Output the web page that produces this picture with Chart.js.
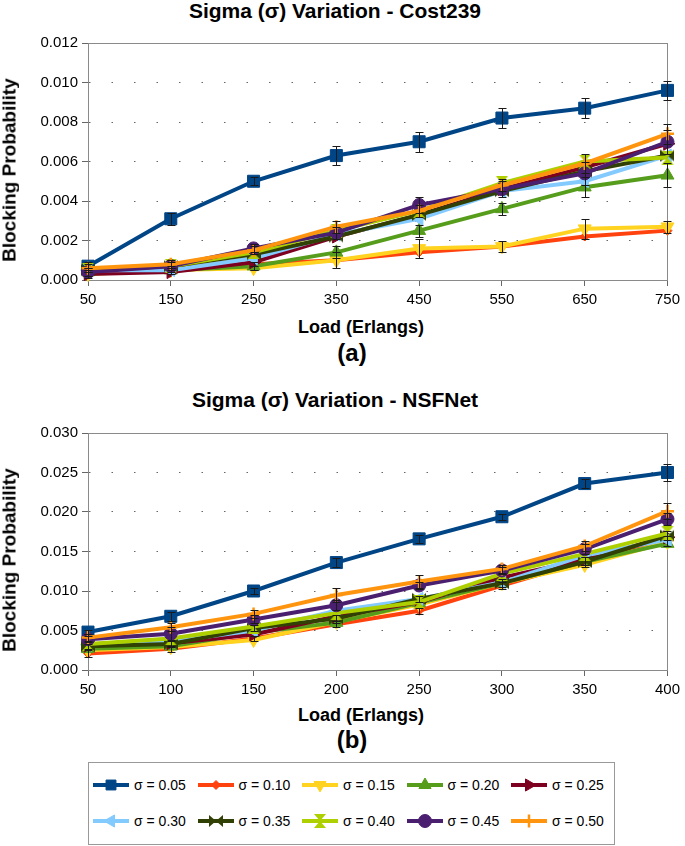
<!DOCTYPE html>
<html>
<head>
<meta charset="utf-8">
<script src="https://cdn.jsdelivr.net/npm/chart.js@4.4.0/dist/chart.umd.min.js"></script>
<style>
  body { margin: 0; background: #fff; width: 685px; height: 846px; position: relative; overflow: hidden; font-family: 'Liberation Sans', Arial, sans-serif; }
  canvas.plot { position: absolute; left: 0; }
  .txt { position: absolute; transform: translateX(-50%); white-space: nowrap; font-weight: bold; color: #000; line-height: 1; }
  .ytitle { position: absolute; white-space: nowrap; font-weight: bold; color: #000; line-height: 1; font-size: 19px; transform: translate(-50%, -50%) rotate(-90deg); }
  #legend { position: absolute; left: 88px; top: 762px; width: 525px; height: 81px; border: 1px solid #999; }
  .item { position: absolute; display: flex; align-items: center; font-size: 14px; color: #000; height: 16px; }
  .item span { margin-left: 5px; }
</style>
</head>
<body>
<div class="txt" style="left:335px;top:0px;font-size:21px;">Sigma (σ) Variation - Cost239</div>
<canvas id="chartA" class="plot" width="685" height="312" style="top:0px"></canvas>
<div class="ytitle" style="left:9px;top:170px;">Blocking Probability</div>
<div class="txt" style="left:361px;top:318px;font-size:18px;">Load (Erlangs)</div>
<div class="txt" style="left:352px;top:341px;font-size:24px;">(a)</div>

<div class="txt" style="left:335px;top:389px;font-size:21px;">Sigma (σ) Variation - NSFNet</div>
<canvas id="chartB" class="plot" width="685" height="312" style="top:390px"></canvas>
<div class="ytitle" style="left:9px;top:560px;">Blocking Probability</div>
<div class="txt" style="left:361px;top:706px;font-size:18px;">Load (Erlangs)</div>
<div class="txt" style="left:352px;top:728px;font-size:24px;">(b)</div>

<div id="legend"></div>

<script>
const loadsCost239 = ['50', '150', '250', '350', '450', '550', '650', '750'];
const loadsNSFNet = ['50', '100', '150', '200', '250', '300', '350', '400'];
const sigmaLabels = ['σ = 0.05', 'σ = 0.10', 'σ = 0.15', 'σ = 0.20', 'σ = 0.25',
                     'σ = 0.30', 'σ = 0.35', 'σ = 0.40', 'σ = 0.45', 'σ = 0.50'];
const seriesColors = ['#004586', '#ff420e', '#ffd320', '#579d1c', '#7e0021',
                      '#83caff', '#314004', '#aecf00', '#4b1f6f', '#ff950e'];

// Cost239 blocking probability
const cost239_s05 = [0.0007, 0.0031, 0.0050, 0.0063, 0.0070, 0.0082, 0.0087, 0.0096];
const cost239_s10 = [0.0005, 0.0006, 0.0008, 0.0010, 0.0014, 0.0017, 0.0022, 0.0025];
const cost239_s15 = [0.0003, 0.0005, 0.0006, 0.0010, 0.0016, 0.0017, 0.0026, 0.0027];
const cost239_s20 = [0.0005, 0.0005, 0.0007, 0.0014, 0.0025, 0.0036, 0.0047, 0.0053];
const cost239_s25 = [0.0003, 0.0004, 0.0009, 0.0022, 0.0033, 0.0046, 0.0057, 0.0069];
const cost239_s30 = [0.0005, 0.0005, 0.0011, 0.0023, 0.0031, 0.0045, 0.0050, 0.0063];
const cost239_s35 = [0.0005, 0.0007, 0.0013, 0.0022, 0.0033, 0.0045, 0.0055, 0.0063];
const cost239_s40 = [0.0005, 0.0007, 0.0014, 0.0025, 0.0035, 0.0049, 0.0060, 0.0062];
const cost239_s45 = [0.0004, 0.0007, 0.0016, 0.0024, 0.0038, 0.0046, 0.0054, 0.0070];
const cost239_s50 = [0.0006, 0.0008, 0.0015, 0.0027, 0.0035, 0.0048, 0.0059, 0.0074];

// Cost239 error bar half-widths (only the series that show them clearly)
const cost239_err05 = [0.0002, 0.0003, 0.0002, 0.0005, 0.0005, 0.0005, 0.0005, 0.0005];
const cost239_err15 = [0.0002, 0.0002, 0.0001, 0.0004, 0.0005, 0.0003, 0.0005, 0.0003];
const cost239_err20 = [0.0001, 0.0001, 0.0002, 0.0003, 0.0003, 0.0003, 0.0005, 0.0006];
const cost239_err45 = [0.0002, 0.0002, 0.0002, 0.0003, 0.0004, 0.0004, 0.0006, 0.0006];
const cost239_err50 = [0.0002, 0.0002, 0.0002, 0.0003, 0.0003, 0.0003, 0.0005, 0.0005];

// NSFNet blocking probability
const nsfnet_s05 = [0.0048, 0.0068, 0.0100, 0.0136, 0.0166, 0.0194, 0.0236, 0.0250];
const nsfnet_s10 = [0.0021, 0.0027, 0.0040, 0.0058, 0.0075, 0.0107, 0.0138, 0.0163];
const nsfnet_s15 = [0.0025, 0.0029, 0.0038, 0.0061, 0.0083, 0.0110, 0.0133, 0.0162];
const nsfnet_s20 = [0.0027, 0.0030, 0.0047, 0.0060, 0.0085, 0.0110, 0.0137, 0.0160];
const nsfnet_s25 = [0.0031, 0.0034, 0.0045, 0.0068, 0.0086, 0.0117, 0.0140, 0.0168];
const nsfnet_s30 = [0.0032, 0.0036, 0.0050, 0.0075, 0.0090, 0.0111, 0.0145, 0.0165];
const nsfnet_s35 = [0.0030, 0.0033, 0.0053, 0.0065, 0.0090, 0.0110, 0.0137, 0.0170];
const nsfnet_s40 = [0.0033, 0.0040, 0.0055, 0.0072, 0.0086, 0.0122, 0.0147, 0.0173];
const nsfnet_s45 = [0.0039, 0.0046, 0.0064, 0.0082, 0.0107, 0.0126, 0.0153, 0.0191];
const nsfnet_s50 = [0.0041, 0.0054, 0.0071, 0.0095, 0.0112, 0.0128, 0.0157, 0.0201];

const nsfnet_err05 = [0.0003, 0.0006, 0.0004, 0.0006, 0.0005, 0.0004, 0.0006, 0.0011];
const nsfnet_err10 = [0.0004, 0.0004, 0.0003, 0.0004, 0.0004, 0.0004, 0.0005, 0.0006];
const nsfnet_err35 = [0.0003, 0.0004, 0.0004, 0.0005, 0.0004, 0.0005, 0.0006, 0.0006];
const nsfnet_err45 = [0.0004, 0.0008, 0.0005, 0.0006, 0.0005, 0.0005, 0.0006, 0.0008];
const nsfnet_err50 = [0.0004, 0.0005, 0.0005, 0.0009, 0.0008, 0.0005, 0.0006, 0.0010];

const cost239Ticks = [0, 0.012, 0.002];
const nsfnetTicks = [0, 0.030, 0.005];

// little canvases for the two marker shapes Chart.js doesn't have
function shapeCanvas(color, kind) {
  const c = document.createElement('canvas');
  c.width = 14; c.height = 14;
  const g = c.getContext('2d');
  g.fillStyle = color;
  g.beginPath();
  if (kind === 'bowtie') {
    g.moveTo(0, 1); g.lineTo(7, 7); g.lineTo(0, 13); g.closePath();
    g.moveTo(14, 1); g.lineTo(7, 7); g.lineTo(14, 13); g.closePath();
  } else {
    g.moveTo(1, 0); g.lineTo(13, 0); g.lineTo(7, 7); g.closePath();
    g.moveTo(1, 14); g.lineTo(13, 14); g.lineTo(7, 7); g.closePath();
  }
  g.fill();
  return c;
}

const markerStyles = ['rect', 'rectRot', 'triangle', 'triangle', 'triangle',
                      'triangle', shapeCanvas(seriesColors[6], 'bowtie'),
                      shapeCanvas(seriesColors[7], 'hourglass'), 'circle', 'cross'];
const markerRotations = [0, 0, 180, 0, 90, -90, 0, 0, 0, 0];
const markerSizes = [8.5, 4.5, 7.5, 7.5, 7.5, 7.5, 7, 7, 6.5, 6.5];

const errorBars = {
  id: 'errorBars',
  afterDatasetsDraw(chart) {
    const ctx = chart.ctx;
    const y = chart.scales.y;
    ctx.save();
    ctx.strokeStyle = '#1a1a1a';
    ctx.lineWidth = 1;
    chart.data.datasets.forEach((ds, i) => {
      if (!ds.errors) return;
      const meta = chart.getDatasetMeta(i);
      meta.data.forEach((pt, j) => {
        const e = ds.errors[j];
        if (!e) return;
        const top = Math.round(y.getPixelForValue(ds.data[j] + e)) + 0.5;
        const bot = Math.round(y.getPixelForValue(ds.data[j] - e)) + 0.5;
        const x = Math.round(pt.x) + 0.5;
        ctx.beginPath();
        ctx.moveTo(x, top); ctx.lineTo(x, bot);
        ctx.moveTo(x - 4, top); ctx.lineTo(x + 4, top);
        ctx.moveTo(x - 4, bot); ctx.lineTo(x + 4, bot);
        ctx.stroke();
      });
    });
    ctx.restore();
  }
};

const frame = {
  id: 'frame',
  beforeDatasetsDraw(chart) {
    const a = chart.chartArea;
    const ctx = chart.ctx;
    ctx.save();
    ctx.strokeStyle = '#8a8a8a';
    ctx.lineWidth = 1;
    ctx.strokeRect(Math.round(a.left) + 0.5, Math.round(a.top) + 0.5,
                   Math.round(a.right - a.left), Math.round(a.bottom - a.top));
    ctx.restore();
  }
};

function buildDatasets(values, errors) {
  return values.map((vals, i) => ({
    label: sigmaLabels[i],
    data: vals,
    errors: errors[i],
    borderColor: seriesColors[i],
    backgroundColor: seriesColors[i],
    pointBackgroundColor: seriesColors[i],
    pointBorderColor: seriesColors[i],
    borderWidth: 4,
    tension: 0,
    pointStyle: markerStyles[i],
    pointRotation: markerRotations[i],
    pointRadius: markerSizes[i],
    pointBorderWidth: i === 9 ? 2.5 : 1,
    clip: false,
    order: 10 - i
  }));
}

function makeChart(id, labels, datasets, ticks) {
  return new Chart(document.getElementById(id), {
    type: 'line',
    data: { labels, datasets },
    options: {
      responsive: false,
      animation: false,
      layout: { padding: { top: 43, right: 13, bottom: 0, left: 0 } },
      plugins: { legend: { display: false }, tooltip: { enabled: false } },
      scales: {
        x: {
          grid: { drawOnChartArea: false, drawTicks: true, tickLength: 6, color: '#666' },
          border: { color: '#666' },
          ticks: { color: '#000', font: { size: 15 }, padding: 5, maxRotation: 0, autoSkip: false },
          afterFit: (s) => { s.height = 32; }
        },
        y: {
          min: ticks[0],
          max: ticks[1],
          grid: { color: '#666', tickLength: 6, tickColor: '#666' },
          border: { color: '#666', dash: [1.5, 21] },
          ticks: {
            stepSize: ticks[2],
            color: '#000',
            font: { size: 15 },
            padding: 4,
            callback: (v) => v.toFixed(3)
          },
          afterFit: (s) => { s.width = 88; }
        }
      }
    },
    plugins: [frame, errorBars]
  });
}

Chart.defaults.font.family = "'Liberation Sans', Arial, sans-serif";

makeChart('chartA', loadsCost239, buildDatasets(
  [cost239_s05, cost239_s10, cost239_s15, cost239_s20, cost239_s25,
   cost239_s30, cost239_s35, cost239_s40, cost239_s45, cost239_s50],
  [cost239_err05, null, cost239_err15, cost239_err20, null,
   null, null, null, cost239_err45, cost239_err50]), cost239Ticks);

makeChart('chartB', loadsNSFNet, buildDatasets(
  [nsfnet_s05, nsfnet_s10, nsfnet_s15, nsfnet_s20, nsfnet_s25,
   nsfnet_s30, nsfnet_s35, nsfnet_s40, nsfnet_s45, nsfnet_s50],
  [nsfnet_err05, nsfnet_err10, null, null, null,
   null, nsfnet_err35, null, nsfnet_err45, nsfnet_err50]), nsfnetTicks);

// shared legend box under both charts
const legend = document.getElementById('legend');
sigmaLabels.forEach((label, i) => {
  const item = document.createElement('div');
  item.className = 'item';
  item.style.left = (4 + (i % 5) * 104.5) + 'px';
  item.style.top = (i < 5 ? 14 : 50) + 'px';
  const c = document.createElement('canvas');
  c.width = 36; c.height = 16;
  const g = c.getContext('2d');
  g.strokeStyle = seriesColors[i];
  g.fillStyle = seriesColors[i];
  g.lineWidth = 4;
  g.beginPath(); g.moveTo(0, 8); g.lineTo(36, 8); g.stroke();
  g.lineWidth = i === 9 ? 2.5 : 1;
  Chart.helpers.drawPoint(g, {
    pointStyle: markerStyles[i],
    rotation: markerRotations[i],
    radius: Math.min(markerSizes[i], 7),
    borderWidth: i === 9 ? 2.5 : 1
  }, 18, 8);
  item.appendChild(c);
  const span = document.createElement('span');
  span.textContent = label;
  item.appendChild(span);
  legend.appendChild(item);
});
</script>
</body>
</html>
